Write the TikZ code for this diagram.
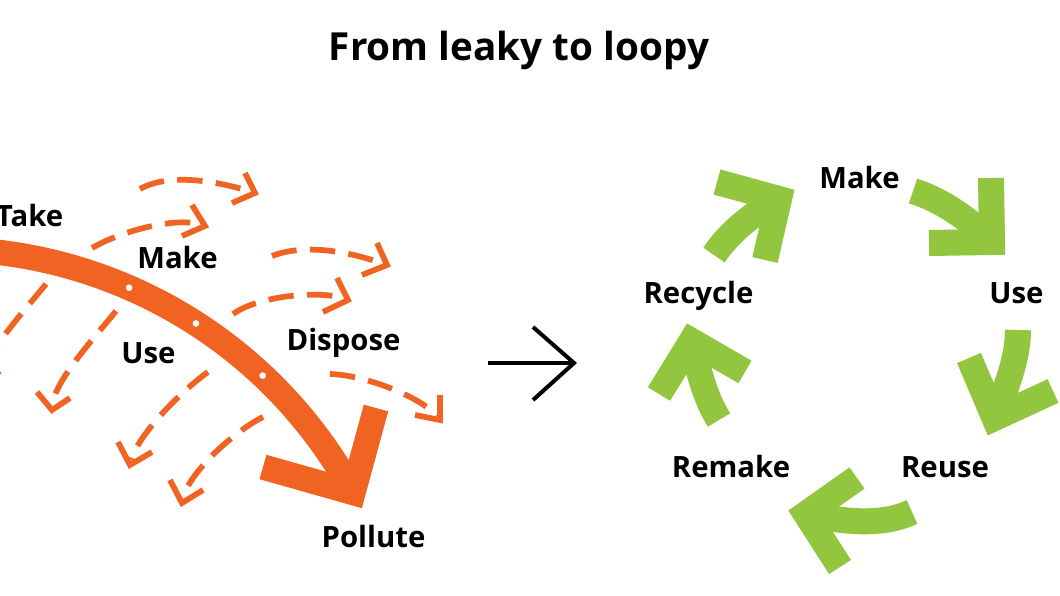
\documentclass[tikz,border=0pt]{standalone}
\usepackage{fontspec}
\setmainfont{Open Sans}
\definecolor{leakorange}{RGB}{241,99,34}
\definecolor{loopgreen}{RGB}{146,198,62}
\begin{document}
\begin{tikzpicture}[x=0.75pt,y=-0.75pt,
  lbl/.style={font=\bfseries\fontsize{22}{26}\selectfont, text=black, inner sep=0pt, anchor=base},
  ttl/.style={font=\bfseries\fontsize{29}{35}\selectfont, text=black, inner sep=0pt, anchor=base},
  leak/.style={draw=leakorange, line width=4.3pt, dash pattern=on 19pt off 10pt, shorten >=4pt},
  leakhead/.style={draw=leakorange, line width=4.3pt, line join=miter},
  obar/.style={draw=leakorange, line width=19pt},
  ohead/.style={draw=leakorange, line width=19pt, line join=miter},
  gbar/.style={draw=loopgreen, line width=19.5pt},
  ghead/.style={draw=loopgreen, line width=19.5pt, line join=miter},
  hole/.style={circle, fill=white, inner sep=0pt, minimum size=5pt},
  conv/.style={draw=black, line width=3pt, line join=miter}]
\useasboundingbox (0,0) rectangle (1060,596);
\clip (0,0) rectangle (1060,596);
\fill[white] (0,0) rectangle (1060,596);

% ---------- title ----------
\node[ttl] (title) at (519,60) {From leaky to loopy};

% ---------- leaking dashed arrows ----------
% A1
\draw[leak] (140,189) .. controls (170,172) and (220,182) .. (255,193);
\draw[leakhead] (245,173) -- (255,193) -- (232,203);
% A2
\draw[leak] (92,248) .. controls (122,230.5) and (176,217) .. (205,226);
\draw[leakhead] (192,205) -- (205,226) -- (182,236);
% A3
\draw[leak] (272,256) .. controls (305,243) and (350,252) .. (387,265);
\draw[leakhead] (377,243) -- (387,265) -- (362,275);
% A4
\draw[leak] (233,314) .. controls (258,296) and (318,290) .. (348,300);
\draw[leakhead] (337,278) -- (348,300) -- (323,312);
% A5
\draw[leak] (330,374) .. controls (365,375) and (421,397) .. (440,420);
\draw[leakhead] (440,395) -- (440,420) -- (415,415);
% B1
\draw[leak] (46,284) .. controls (26,309) and (-15,353) .. (-18,383);
\draw[leakhead] (-33,365) -- (-18,383) -- (0,371);
% B2
\draw[leak] (116,311) .. controls (96,336) and (55,380) .. (52,410);
\draw[leakhead] (37,392) -- (52,410) -- (70,398);
% B3
\draw[leak] (208,372) .. controls (180,392) and (138,435) .. (130,465);
\draw[leakhead] (118,442) -- (130,465) -- (152,452);
% B4
\draw[leak] (263,417) .. controls (233,432) and (189,473) .. (182,503);
\draw[leakhead] (170,480) -- (182,503) -- (203,490);

% ---------- big linear arrow ----------
\draw[obar] plot[domain=86:28.6, samples=60, smooth] ({-57+467*cos(\x)},{716-467*sin(\x)});
\draw[ohead] (263,467) -- (353,492.5) -- (376,408);
\node[hole] (d1) at ({-57+467*cos(66.5)},{716-467*sin(66.5)}) {};
\node[hole] (d2) at ({-57+467*cos(57.2)},{716-467*sin(57.2)}) {};
\node[hole] (d3) at ({-57+467*cos(46.8)},{716-467*sin(46.8)}) {};

% ---------- left labels ----------
\node[lbl, anchor=base east] (take) at (63.5,226) {Take};
\node[lbl] (makeL) at (177.5,268) {Make};
\node[lbl] (useL) at (148.5,363) {Use};
\node[lbl] (dispose) at (343.5,350) {Dispose};
\node[lbl] (pollute) at (373.5,547) {Pollute};

% ---------- middle arrow ----------
\coordinate (cs) at (488,363);
\coordinate (ce) at (574,363);
\coordinate (ca) at (533,327);
\coordinate (cb) at (533,400);
\draw[conv] (cs) -- (ce);
\draw[conv] (ca) -- (ce) -- (cb);

% ---------- circular arrows ----------
% Recycle -> Make
\draw[gbar] (714,255) .. controls (730,231) and (754,213) .. (779,199);
\draw[ghead] (717,182) -- (779,199) -- (765,260);
% Make -> Use
\draw[gbar] (913,191) .. controls (942,200) and (970,220) .. (992,242);
\draw[ghead] (991,178) -- (992,242) -- (929,243);
% Use -> Reuse
\draw[gbar] (1018,330) .. controls (1018,360) and (1005,390) .. (994.5,418);
\draw[ghead] (969,358) -- (994.5,418) -- (1053,391);
% Reuse -> Remake
\draw[gbar] (912,512) .. controls (880,527) and (840,521) .. (806,514);
\draw[ghead] (857,478) -- (806,514) -- (840,567);
% Remake -> Recycle
\draw[gbar] (719,420) .. controls (704,396) and (698,368) .. (691.5,341);
\draw[ghead] (659,394) -- (691.5,341) -- (745,372);

% ---------- right labels ----------
\node[lbl] (makeR) at (859.5,188) {Make};
\node[lbl] (useR) at (1016.5,303) {Use};
\node[lbl] (recycle) at (698.5,303) {Recycle};
\node[lbl] (remake) at (731,477) {Remake};
\node[lbl] (reuse) at (945,477) {Reuse};
\end{tikzpicture}
\end{document}
